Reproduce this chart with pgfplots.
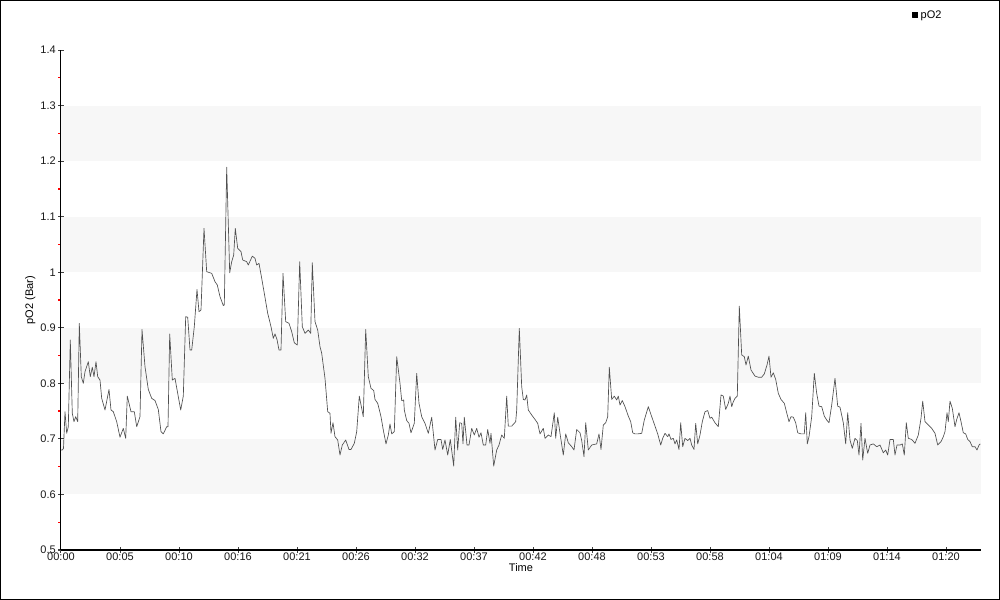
\documentclass[border=0pt]{standalone}
\usepackage{pgfplots}
\pgfplotsset{compat=1.18}
\usepackage{fontspec}
\setmainfont{Liberation Sans}
\definecolor{band}{HTML}{F7F7F7}
\definecolor{lineg}{HTML}{505050}
\begin{document}
\begin{tikzpicture}
\fontsize{8.25}{10}\selectfont
\path[use as bounding box] (-45.75pt,-37.5pt) rectangle (704.25pt,412.5pt);
\draw[line width=0.75pt] (-45.375pt,-37.125pt) rectangle (703.875pt,412.125pt);
\begin{axis}[
  at={(0,0)}, anchor=south west,
  scale only axis, width=690pt, height=375pt,
  xmin=0, xmax=920, ymin=0.5, ymax=1.4,
  axis lines*=left,
  axis line style={line width=0.75pt, black},
  xtick={0,59,118,177,236,295,354,413,472,531,590,649,708,767,826,885},
  xticklabels={00:00,00:05,00:10,00:16,00:21,00:26,00:32,00:37,00:42,00:48,00:53,00:58,01:04,01:09,01:14,01:20},
  ytick={0.5,0.6,0.7,0.8,0.9,1.0,1.1,1.2,1.3,1.4},
  yticklabels={0.5,0.6,0.7,0.8,0.9,1,1.1,1.2,1.3,1.4},
  minor ytick={0.55,0.65,0.75,0.85,0.95,1.05,1.15,1.25,1.35},
  tick align=center,
  major tick length=4pt,
  minor tick length=2pt,
  major tick style={line width=0.75pt, black!75},
  every minor tick/.append style={line width=1pt, red, xshift=-1pt},
  tick label style={font=\fontsize{8.25}{10}\selectfont, text=black!90},
  xticklabel style={yshift=2.5pt},
  yticklabel style={xshift=1pt},
  xlabel={Time}, ylabel={pO2 (Bar)},
  xlabel style={yshift=4pt, font=\fontsize{8.25}{10}\selectfont},
  ylabel style={yshift=-2pt, font=\fontsize{8.25}{10}\selectfont},
  legend style={at={(0.925,1.07)}, anchor=west, draw=none, fill=none,
    font=\fontsize{8.25}{10}\selectfont, inner sep=0pt,
    legend cell align=left},
  legend image code/.code={\fill[black] (0pt,-1.9pt) rectangle (3.8pt,1.9pt);},
  clip=false,
]
\fill[band] (axis cs:0,0.6) rectangle (axis cs:920,0.7);
\fill[band] (axis cs:0,0.8) rectangle (axis cs:920,0.9);
\fill[band] (axis cs:0,1.0) rectangle (axis cs:920,1.1);
\fill[band] (axis cs:0,1.2) rectangle (axis cs:920,1.3);
\addplot[lineg, line width=0.5pt, line join=round] table {
x y
0 0.68
1.3 0.68
2.5 0.683
4 0.749
5.7 0.71
7.3 0.722
9.3 0.878
11.3 0.746
13 0.731
14.7 0.74
16.7 0.731
18.3 0.908
20.3 0.812
22.3 0.8
24 0.821
27.3 0.839
29.3 0.812
31.3 0.829
33 0.812
35 0.839
36.7 0.812
39 0.806
40.7 0.773
44 0.752
48 0.789
50 0.752
52.3 0.749
55.7 0.731
59 0.703
62.3 0.719
64.7 0.701
66.3 0.777
70 0.749
73.3 0.749
75.7 0.722
79 0.74
81 0.897
84 0.83
87.3 0.789
90.7 0.773
94 0.769
97.3 0.753
100 0.713
102.3 0.709
105.7 0.722
107 0.722
108.7 0.889
111.3 0.806
114 0.809
116.7 0.782
119.7 0.752
122.3 0.777
124.7 0.92
126.7 0.919
129 0.86
130.7 0.86
133.3 0.902
136 0.969
138 0.929
140 0.932
143 1.079
145.7 1.001
150.7 0.998
154 0.983
156.3 0.977
159 0.956
162.3 0.94
163.3 0.941
165.7 1.189
168.7 0.999
170.7 1.019
172.7 1.031
174.3 1.079
176.7 1.043
180 1.037
181.7 1.022
185.7 1.019
187.3 1.013
191.3 1.029
194 1.025
195.7 1.013
198 1.016
200.7 0.989
203.3 0.962
206.7 0.926
210 0.902
212.3 0.881
214 0.889
216 0.879
218 0.86
220 0.86
222 0.998
224.7 0.911
228 0.908
230.7 0.893
233.3 0.873
236.3 0.869
238.7 1.019
241.3 0.902
244 0.89
247.3 0.896
249.7 0.89
251.3 1.017
254 0.911
256.7 0.896
259 0.866
260.7 0.854
264 0.809
266.7 0.749
269 0.746
270 0.71
272 0.729
274 0.704
276.7 0.698
279 0.671
281.3 0.689
284.7 0.698
288 0.681
290 0.681
293.3 0.692
295.7 0.713
298.3 0.777
302.3 0.74
304.7 0.897
307.3 0.812
310 0.791
312.7 0.787
314 0.771
316.7 0.764
320 0.74
322.3 0.716
325 0.691
327.3 0.707
329 0.727
330.7 0.709
333.3 0.713
335.7 0.848
339 0.8
340.7 0.769
342.7 0.77
343.3 0.752
345.7 0.733
348 0.728
350 0.711
353.3 0.728
355.7 0.818
358 0.764
360.7 0.74
364 0.728
367.3 0.71
370.7 0.739
374 0.68
376.7 0.699
380 0.699
381.7 0.681
384 0.698
386.7 0.671
389.3 0.699
392.7 0.651
394.7 0.739
396.7 0.68
398.7 0.729
400.7 0.728
402 0.691
403.3 0.739
406 0.689
408 0.689
410.7 0.719
413.3 0.707
415.7 0.719
418 0.703
420 0.711
422.3 0.689
424.7 0.689
426.7 0.717
429 0.692
430 0.71
432.7 0.651
435.7 0.68
438 0.689
440.7 0.707
443.3 0.701
445.7 0.777
447.3 0.723
450.7 0.723
454.7 0.731
455.7 0.752
458.3 0.899
460.7 0.794
462.3 0.771
464 0.77
465.7 0.779
467.3 0.752
470.7 0.743
474 0.735
476.7 0.728
479 0.709
482.3 0.719
484 0.701
487.3 0.707
490 0.704
493.3 0.747
494.7 0.701
496.7 0.739
499 0.71
502.3 0.671
504.7 0.709
507.3 0.693
510.7 0.686
513 0.68
515.7 0.717
519 0.711
520.7 0.697
523 0.668
524.7 0.729
527.3 0.68
530.7 0.689
535.7 0.691
538 0.709
540 0.681
542.3 0.725
544.7 0.729
546.7 0.74
548.3 0.829
550.7 0.771
553.3 0.777
555.7 0.77
557.3 0.777
559 0.761
561.3 0.769
564 0.758
567.3 0.741
569.7 0.731
571.7 0.711
574 0.709
576.7 0.709
580.7 0.71
583.3 0.734
587.3 0.758
590.7 0.74
594 0.723
596.7 0.709
599.7 0.689
601.7 0.701
604 0.71
606.7 0.704
608 0.709
610 0.699
612.3 0.701
614 0.691
615.7 0.698
618 0.681
619.7 0.729
621.7 0.686
624 0.701
626.7 0.697
629 0.701
630.7 0.689
633 0.681
634.7 0.728
636.7 0.691
639 0.707
641.3 0.731
644 0.749
646.7 0.751
649 0.737
650.7 0.739
654 0.729
657.3 0.722
660 0.779
662.3 0.777
664.7 0.753
667.3 0.764
669 0.777
670.7 0.758
672.3 0.767
674 0.773
676.3 0.777
678.3 0.939
680.7 0.851
683.3 0.848
685 0.833
687.3 0.849
690 0.824
694 0.813
697.3 0.811
700.7 0.811
703.3 0.817
706 0.833
708 0.849
710 0.811
712.3 0.819
714.7 0.807
717.3 0.782
720 0.771
723.3 0.764
725.7 0.747
728 0.731
730 0.74
732.3 0.739
734.7 0.729
736.7 0.711
740 0.709
743.3 0.709
744.7 0.747
746.3 0.691
748 0.704
750.7 0.74
753.3 0.818
755.7 0.782
758 0.759
760.7 0.758
763.3 0.741
765.7 0.734
768 0.729
770.7 0.761
774 0.809
776.7 0.759
779 0.757
782.3 0.729
784.7 0.691
786.7 0.747
789 0.698
791.3 0.683
794 0.701
796.3 0.697
798 0.671
800 0.728
801.7 0.662
804 0.701
806.7 0.674
809 0.689
812.3 0.691
815.7 0.686
819 0.689
822.3 0.675
824.7 0.68
826.7 0.671
829 0.699
832.3 0.699
834 0.671
836 0.689
839 0.689
841.3 0.691
843.3 0.671
845.3 0.729
847.3 0.701
850.7 0.699
854 0.692
857.3 0.707
860 0.737
861.7 0.768
864 0.731
867.3 0.725
870.7 0.719
874 0.71
876.7 0.689
880 0.695
882.3 0.704
884 0.713
886 0.747
887.3 0.731
889 0.768
891.3 0.755
894 0.722
895.7 0.735
898 0.747
900 0.731
902.3 0.711
904.7 0.709
906.7 0.699
909 0.695
911.3 0.686
914 0.686
916 0.68
918 0.689
919.3 0.691
};
\addlegendentry{pO2}
\end{axis}
\end{tikzpicture}
\end{document}
